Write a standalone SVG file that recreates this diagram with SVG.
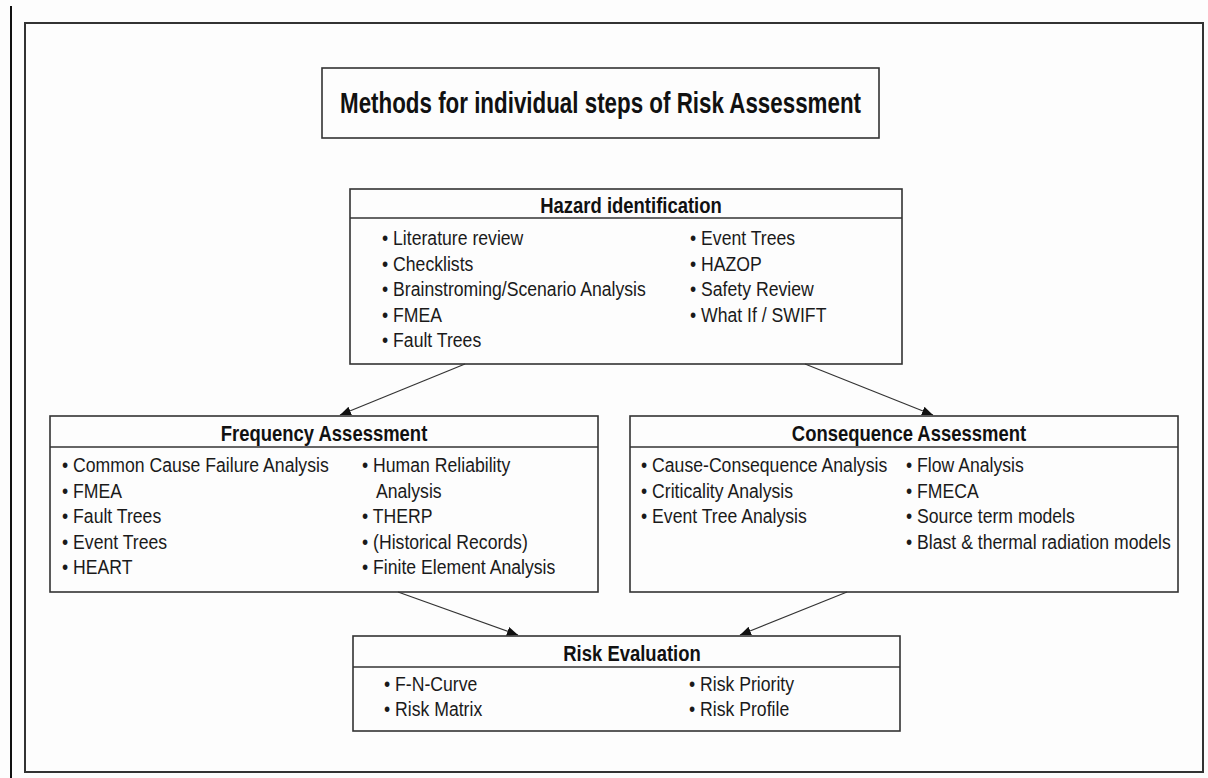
<svg xmlns="http://www.w3.org/2000/svg" width="1208" height="778" viewBox="0 0 1208 778">
<style>
.bg{fill:#fdfdfd}
.frame{fill:none;stroke:#333;stroke-width:2}
.box{fill:#fdfdfd;stroke:#333;stroke-width:1.6}
.div{stroke:#333;stroke-width:1.6}
.title{font-family:"Liberation Sans",Arial,sans-serif;font-weight:bold;font-size:29px;fill:#111}
.head{font-family:"Liberation Sans",Arial,sans-serif;font-weight:bold;font-size:22px;fill:#111;text-anchor:middle}
.item{font-family:"Liberation Sans",Arial,sans-serif;font-size:21px;fill:#1a1a1a}
.conn{stroke:#333;stroke-width:1.2;fill:none}
</style>
<defs>
<marker id="arr" markerUnits="userSpaceOnUse" markerWidth="12" markerHeight="10" refX="11" refY="4.5" orient="auto">
<path d="M0,0 L11,4.5 L0,9 z" fill="#111"/>
</marker>
</defs>
<rect class="bg" x="0" y="0" width="1208" height="778"/>
<line x1="11" y1="6" x2="11" y2="778" stroke="#111" stroke-width="2"/>
<rect class="frame" x="25" y="23" width="1178" height="749"/>

<g id="title">
<rect class="box" x="322" y="68" width="557" height="70"/>
<text class="title" x="340" y="113" textLength="521" lengthAdjust="spacingAndGlyphs">Methods for individual steps of Risk Assessment</text>
</g>

<g id="hazard">
<rect class="box" x="350" y="189" width="552" height="175"/>
<line class="div" x1="350" y1="218" x2="902" y2="218"/>
<text class="head" transform="translate(631,213) scale(.84,1)">Hazard identification</text>
<text class="item" transform="translate(382,245) scale(.84,1)">• Literature review</text>
<text class="item" transform="translate(382,270.5) scale(.84,1)">• Checklists</text>
<text class="item" transform="translate(382,296) scale(.84,1)">• Brainstroming/Scenario Analysis</text>
<text class="item" transform="translate(382,321.5) scale(.84,1)">• FMEA</text>
<text class="item" transform="translate(382,347) scale(.84,1)">• Fault Trees</text>
<text class="item" transform="translate(690,245) scale(.84,1)">• Event Trees</text>
<text class="item" transform="translate(690,270.5) scale(.84,1)">• HAZOP</text>
<text class="item" transform="translate(690,296) scale(.84,1)">• Safety Review</text>
<text class="item" transform="translate(690,321.5) scale(.84,1)">• What If / SWIFT</text>
</g>

<g id="frequency">
<rect class="box" x="50" y="416" width="548" height="176"/>
<line class="div" x1="50" y1="447" x2="598" y2="447"/>
<text class="head" transform="translate(324,441) scale(.84,1)">Frequency Assessment</text>
<text class="item" transform="translate(62,472) scale(.84,1)">• Common Cause Failure Analysis</text>
<text class="item" transform="translate(62,497.5) scale(.84,1)">• FMEA</text>
<text class="item" transform="translate(62,523) scale(.84,1)">• Fault Trees</text>
<text class="item" transform="translate(62,548.5) scale(.84,1)">• Event Trees</text>
<text class="item" transform="translate(62,574) scale(.84,1)">• HEART</text>
<text class="item" transform="translate(362,472) scale(.84,1)">• Human Reliability</text>
<text class="item" transform="translate(376,497.5) scale(.84,1)">Analysis</text>
<text class="item" transform="translate(362,523) scale(.84,1)">• THERP</text>
<text class="item" transform="translate(362,548.5) scale(.84,1)">• (Historical Records)</text>
<text class="item" transform="translate(362,574) scale(.84,1)">• Finite Element Analysis</text>
</g>

<g id="consequence">
<rect class="box" x="630" y="416" width="548" height="176"/>
<line class="div" x1="630" y1="447" x2="1178" y2="447"/>
<text class="head" transform="translate(909,441) scale(.84,1)">Consequence Assessment</text>
<text class="item" transform="translate(641,472) scale(.84,1)">• Cause-Consequence Analysis</text>
<text class="item" transform="translate(641,497.5) scale(.84,1)">• Criticality Analysis</text>
<text class="item" transform="translate(641,523) scale(.84,1)">• Event Tree Analysis</text>
<text class="item" transform="translate(906,472) scale(.84,1)">• Flow Analysis</text>
<text class="item" transform="translate(906,497.5) scale(.84,1)">• FMECA</text>
<text class="item" transform="translate(906,523) scale(.84,1)">• Source term models</text>
<text class="item" transform="translate(906,548.5) scale(.84,1)">• Blast &amp; thermal radiation models</text>
</g>

<g id="risk">
<rect class="box" x="353" y="636" width="547" height="95"/>
<line class="div" x1="353" y1="667" x2="900" y2="667"/>
<text class="head" transform="translate(632,661) scale(.84,1)">Risk Evaluation</text>
<text class="item" transform="translate(384,691) scale(.84,1)">• F-N-Curve</text>
<text class="item" transform="translate(384,716) scale(.84,1)">• Risk Matrix</text>
<text class="item" transform="translate(689,691) scale(.84,1)">• Risk Priority</text>
<text class="item" transform="translate(689,716) scale(.84,1)">• Risk Profile</text>
</g>

<g id="connectors">
<line class="conn" x1="465" y1="364" x2="340" y2="415" marker-end="url(#arr)"/>
<line class="conn" x1="805" y1="364" x2="933" y2="415" marker-end="url(#arr)"/>
<line class="conn" x1="398" y1="592" x2="518" y2="635" marker-end="url(#arr)"/>
<line class="conn" x1="847" y1="592" x2="740" y2="635" marker-end="url(#arr)"/>
</g>
</svg>
